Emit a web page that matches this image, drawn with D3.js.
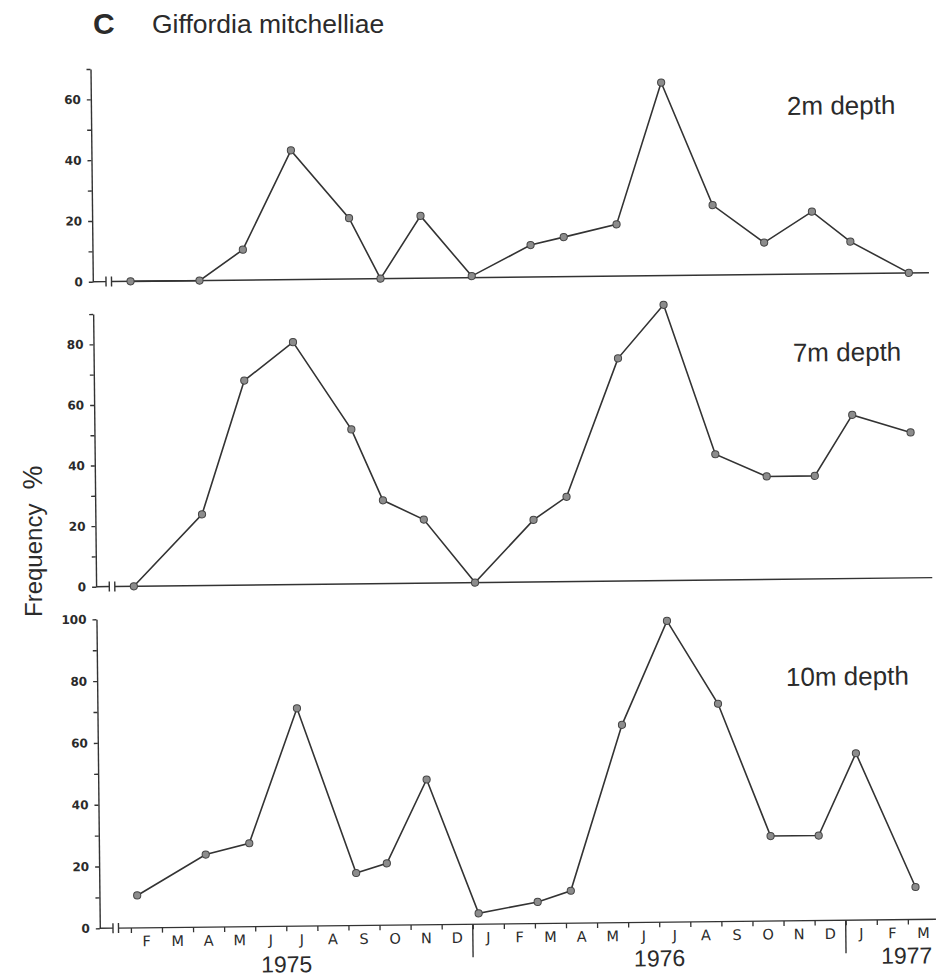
<!DOCTYPE html>
<html>
<head>
<meta charset="utf-8">
<script src="https://cdn.jsdelivr.net/npm/d3@7"></script>
<style>
    body { margin: 0; background: #fff; }
    text { font-family: "Liberation Sans", Arial, sans-serif; fill: #2b2b2b; }
</style>
</head>
<body>
<div id="chart"></div>
<script>
// sampling dates (same for every depth)
var sampleDates = ["1975-02-07", "1975-04-14", "1975-05-27", "1975-07-14", "1975-09-09", "1975-10-09",
    "1975-11-18", "1976-01-07", "1976-03-04", "1976-04-06", "1976-05-28", "1976-07-12", "1976-08-31",
    "1976-10-20", "1976-12-06", "1977-01-13", "1977-03-09"];

// frequency %
var freq2m = [0, 0, 10, 42.5, 20, 0, 20.5, 0.5, 10.5, 13, 17, 63.5, 23, 10.5, 20.5, 10.5, 0];
var freq7m = [0, 23.5, 67.5, 80, 51, 27.5, 21, 0, 20.5, 28, 73.5, 91, 41.5, 34, 34, 54, 48];
var freq10m = [10.5, 23.5, 27, 70.5, 17, 20, 47, 3.5, 7, 10.5, 64, 97.5, 70.5, 27.5, 27.5, 54, 10.5];

var monthLabels = ["F", "M", "A", "M", "J", "J", "A", "S", "O", "N", "D",
    "J", "F", "M", "A", "M", "J", "J", "A", "S", "O", "N", "D",
    "J", "F", "M"];
var yearLabels = ["1975", "1976", "1977"];
var yearCentres = [6, 18, 25.95];   // months after Jan 1975
var yearBreaks = [12, 24];

const LINE_COLOR = "#333";
const POINT_FILL = "#8c8c8c";
const W = 936, H = 979;

var parseDate = d3.timeParse("%Y-%m-%d");

// months since 1 Jan 1975, fractional
function monthIndex(str) {
    var d = parseDate(str);
    var start = d3.timeMonth.floor(d);
    var next = d3.timeMonth.offset(start, 1);
    return (d.getFullYear() - 1975) * 12 + d.getMonth() + (d - start) / (next - start);
}

var svg = d3.select("#chart").append("svg")
    .attr("width", W)
    .attr("height", H);

// the printed figure is scanned slightly askew
var plot = svg.append("g")
    .attr("transform", "rotate(-0.62, 99.5, 928.3)");

var x = d3.scaleLinear().domain([0, 27]).range([99.8, 99.8 + 27 * 31.08]);

var panels = [
    { label: "2m depth", values: freq2m, max: 70, top: 68.9, base: 281.7, lx: 795.8, ly: 122.5 },
    { label: "7m depth", values: freq7m, max: 90, top: 314, base: 586.7, lx: 799, ly: 369.2 },
    { label: "10m depth", values: freq10m, max: 100, top: 619.3, base: 928.3, lx: 788.6, ly: 693.4 }
];

panels.forEach(function (p, i) {
    var y = d3.scaleLinear().domain([0, p.max]).range([p.base, p.top]);
    var g = plot.append("g");

    var yAxis = d3.axisLeft(y)
        .tickValues(d3.range(0, p.max + 1, 10))
        .tickSize(4)
        .tickSizeOuter(0)
        .tickPadding(6)
        .tickFormat(function (d) { return d % 20 === 0 ? d : ""; });

    var ya = g.append("g")
        .attr("transform", "translate(" + x(0) + ",0)")
        .call(yAxis);
    ya.select(".domain").attr("stroke", LINE_COLOR).attr("stroke-width", 1.4);
    ya.selectAll(".tick line").attr("stroke", LINE_COLOR).attr("stroke-width", 1.2);
    ya.selectAll(".tick text")
        .style("font-family", "'DejaVu Sans', sans-serif")
        .style("font-weight", "bold")
        .style("font-size", "12px")
        .attr("fill", "#333");

    // baseline with axis break
    var brk1 = 113, brk2 = 118.5;
    g.append("line").attr("x1", x(0)).attr("x2", brk1)
        .attr("y1", y(0)).attr("y2", y(0));
    g.append("line").attr("x1", brk2).attr("x2", W)
        .attr("y1", y(0)).attr("y2", y(0));
    [brk1, brk2].forEach(function (bx) {
        g.append("line").attr("x1", bx).attr("x2", bx)
            .attr("y1", y(0) - 5).attr("y2", y(0) + 5);
    });
    g.selectAll("line").attr("stroke", LINE_COLOR).attr("stroke-width", 1.4);

    var pts = sampleDates.map(function (s, k) {
        return { m: monthIndex(s), v: p.values[k] };
    });

    var line = d3.line()
        .x(function (d) { return x(d.m); })
        .y(function (d) { return y(d.v); });

    g.append("path")
        .datum(pts)
        .attr("d", line)
        .attr("fill", "none")
        .attr("stroke", LINE_COLOR)
        .attr("stroke-width", 1.6);

    g.selectAll(".pt")
        .data(pts)
        .enter()
        .append("circle")
        .attr("class", "pt")
        .attr("cx", function (d) { return x(d.m); })
        .attr("cy", function (d) { return y(d.v); })
        .attr("r", 3.6)
        .attr("fill", POINT_FILL)
        .attr("stroke", "#444")
        .attr("stroke-width", 1);

    g.append("text")
        .attr("x", p.lx)
        .attr("y", p.ly)
        .style("font-size", "26px")
        .text(p.label);

    // month axis only under the bottom panel
    if (i === panels.length - 1) {
        var xa = g.append("g")
            .attr("transform", "translate(0," + p.base + ")")
            .call(d3.axisBottom(x).tickValues(d3.range(1, 27)).tickSize(5).tickFormat(""));
        xa.select(".domain").remove();
        xa.selectAll(".tick line").attr("stroke", LINE_COLOR).attr("stroke-width", 1.3);

        g.selectAll(".month")
            .data(monthLabels)
            .enter()
            .append("text")
            .attr("class", "month")
            .attr("x", function (d, k) { return x(k + 1.5); })
            .attr("y", p.base + 18.5)
            .attr("text-anchor", "middle")
            .style("font-family", "'DejaVu Sans', sans-serif")
            .style("font-size", "14.5px")
            .text(function (d) { return d; });

        g.selectAll(".yearbreak")
            .data(yearBreaks)
            .enter()
            .append("line")
            .attr("class", "yearbreak")
            .attr("x1", function (d) { return x(d); })
            .attr("x2", function (d) { return x(d); })
            .attr("y1", p.base)
            .attr("y2", p.base + 33)
            .attr("stroke", LINE_COLOR)
            .attr("stroke-width", 1.4);

        g.selectAll(".year")
            .data(yearLabels)
            .enter()
            .append("text")
            .attr("class", "year")
            .attr("x", function (d, k) { return x(yearCentres[k]); })
            .attr("y", function (d, k) { return p.base + (k === 0 ? 46 : 44); })
            .attr("text-anchor", "middle")
            .style("font-size", "23px")
            .text(function (d) { return d; });
    }
});

// heading and y label
svg.append("text")
    .attr("x", 93)
    .attr("y", 34)
    .style("font-size", "30px")
    .style("font-weight", "bold")
    .text("C");

svg.append("text")
    .attr("x", 152)
    .attr("y", 33)
    .style("font-size", "26.5px")
    .text("Giffordia mitchelliae");

var ylab = svg.append("text")
    .attr("transform", "translate(42,617) rotate(-90)")
    .style("font-size", "24px");
ylab.append("tspan").text("Frequency");
ylab.append("tspan").attr("dx", 14).style("font-size", "27px").text("%");
</script>
</body>
</html>
